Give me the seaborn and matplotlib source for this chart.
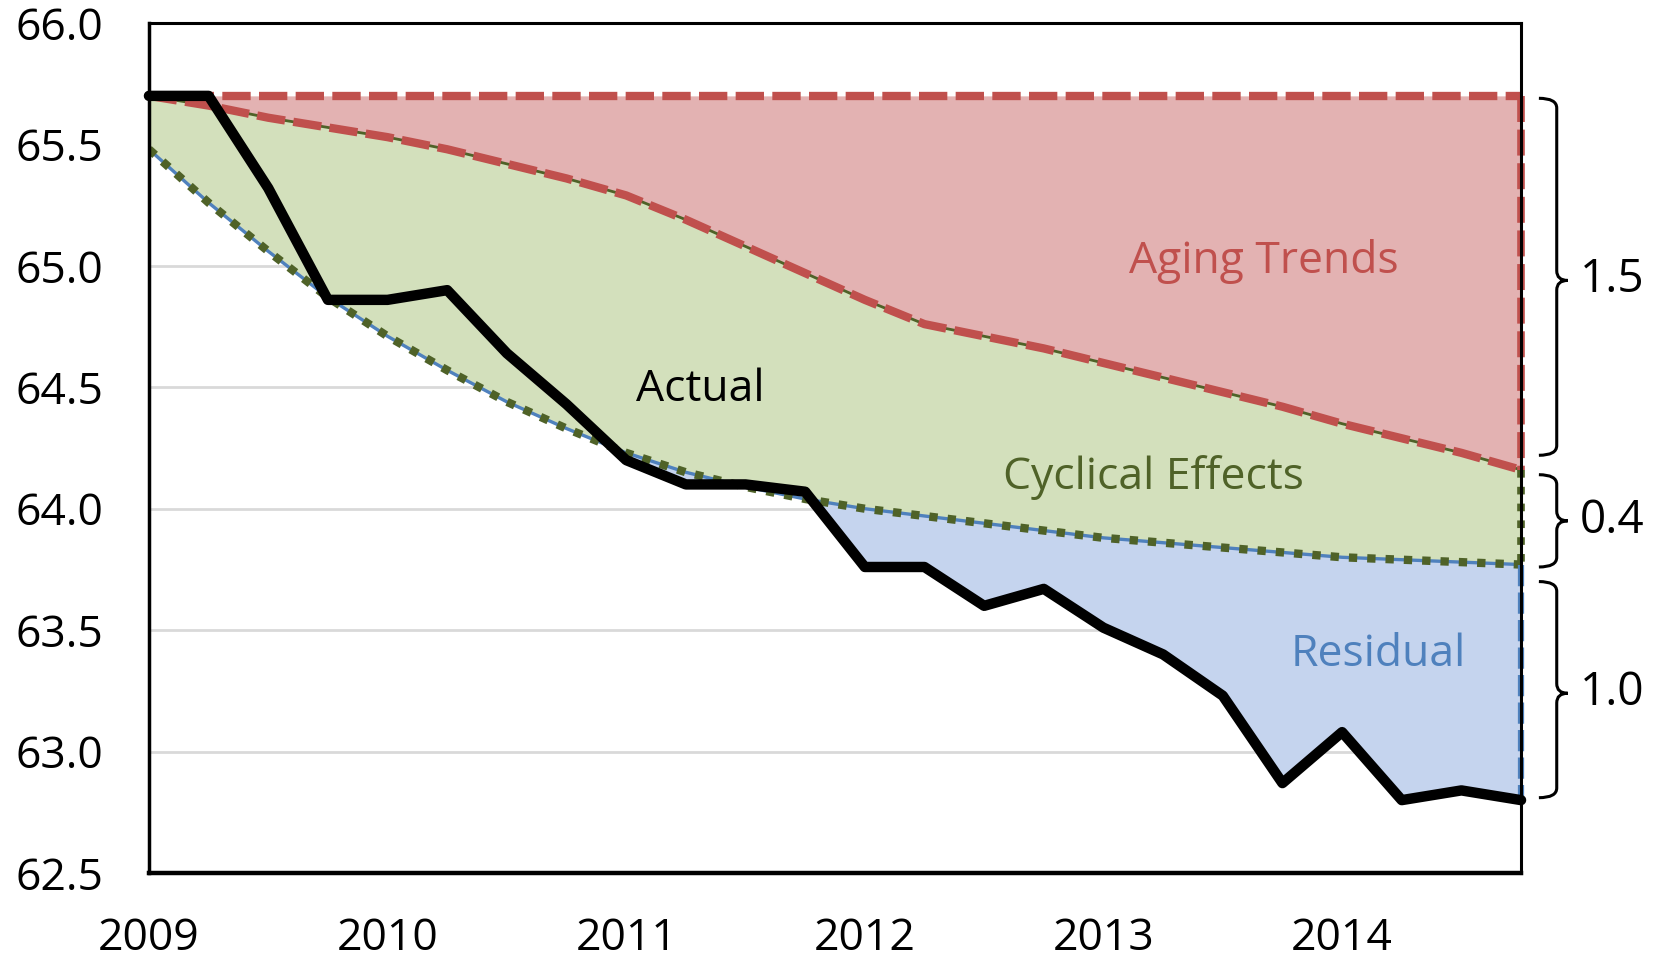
import numpy as np
import pandas as pd
import matplotlib
matplotlib.use("Agg")
import matplotlib.pyplot as plt
import matplotlib.transforms as mtransforms
from matplotlib.path import Path
from matplotlib.patches import PathPatch
import seaborn as sns

# quarterly positions 2009Q1 .. 2014Q4
quarters = [2009.0, 2009.25, 2009.5, 2009.75, 2010.0, 2010.25, 2010.5, 2010.75,
            2011.0, 2011.25, 2011.5, 2011.75, 2012.0, 2012.25, 2012.5, 2012.75,
            2013.0, 2013.25, 2013.5, 2013.75, 2014.0, 2014.25, 2014.5, 2014.75]

actual = [65.70, 65.70, 65.32, 64.86, 64.86, 64.90, 64.64, 64.43,
          64.20, 64.10, 64.10, 64.07, 63.76, 63.76, 63.60, 63.67,
          63.51, 63.40, 63.23, 62.87, 63.08, 62.80, 62.84, 62.80]

baseline = [65.70] * 24

aging = [65.70, 65.66, 65.61, 65.57, 65.53, 65.48, 65.42, 65.36,
         65.29, 65.19, 65.08, 64.97, 64.86, 64.76, 64.71, 64.66,
         64.60, 64.54, 64.48, 64.42, 64.35, 64.29, 64.23, 64.16]

cyclical = [65.48, 65.26, 65.06, 64.87, 64.71, 64.57, 64.44, 64.33,
            64.23, 64.15, 64.09, 64.04, 64.00, 63.97, 63.94, 63.91,
            63.88, 63.86, 63.84, 63.82, 63.80, 63.79, 63.78, 63.77]

year_ticks = [2009, 2010, 2011, 2012, 2013, 2014]
y_ticks = [62.5, 63.0, 63.5, 64.0, 64.5, 65.0, 65.5, 66.0]

# brackets on the right: top, bottom, middle, label
brace_top = [65.69, 64.14, 63.70]
brace_bottom = [64.22, 63.76, 62.81]
brace_mid = [64.94, 63.95, 63.24]
brace_labels = ["1.5", "0.4", "1.0"]

df = pd.DataFrame({"quarter": quarters, "actual": actual, "baseline": baseline,
                   "aging": aging, "cyclical": cyclical})

red = "#C0504D"
red_fill = "#E3B2B2"
green = "#4F6228"
green_fill = "#D3E0BC"
blue = "#4F81BD"
blue_fill = "#C5D4EE"

sns.set_style("white")
plt.rcParams['font.family'] = ['Open Sans', 'DejaVu Sans']

fig = plt.figure(figsize=(16.66, 9.59), dpi=100)
ax = fig.add_axes([0.0894, 0.0897, 0.8236, 0.8863])

x = df["quarter"].values
# shaded areas
ax.fill_between(x, df["baseline"], df["aging"], color=red_fill, lw=0, zorder=2)
ax.fill_between(x, df["aging"], df["cyclical"], color=green_fill, lw=0, zorder=2)
ax.fill_between(x, df["cyclical"], df["actual"], where=df["actual"] < df["cyclical"],
                interpolate=True, color=blue_fill, lw=0, zorder=2)

dash = (3.4, 1.0)
dot = (1.0, 1.2)
# borders
ax.plot(x, df["baseline"], color=red, lw=6.0, dashes=dash, zorder=4)
ax.plot(x, df["aging"], color=green, lw=2.0, zorder=3)
ax.plot(x, df["aging"], color=red, lw=6.0, dashes=dash, zorder=4)
ax.plot(x, df["cyclical"], color=blue, lw=2.4, zorder=3)
ax.plot(x, df["cyclical"], color=green, lw=6.0, dashes=dot, zorder=4)

# right edge vertical borders
xe = x[-1]
ax.plot([xe, xe], [baseline[-1], aging[-1]], color=red, lw=5.5, dashes=dash,
        zorder=4, clip_on=False)
ax.plot([xe, xe], [aging[-1], cyclical[-1]], color=green, lw=5.5, dashes=dot,
        zorder=4, clip_on=False)
ax.plot([xe, xe], [cyclical[-1], actual[-1]], color=blue, lw=4.5, dashes=dash,
        zorder=4, clip_on=False)

# actual line
sns.lineplot(data=df, x="quarter", y="actual", color="black", lw=7.5, ax=ax,
             zorder=5, clip_on=False)

ax.set_xlim(2009, 2014.75)
ax.set_ylim(62.5, 66.0)
ax.set_xticks(year_ticks)
ax.set_xticklabels([str(v) for v in year_ticks])
ax.set_yticks(y_ticks)
ax.set_yticklabels([f"{v:.1f}" for v in y_ticks])
ax.set_xlabel("")
ax.set_ylabel("")

for v in y_ticks[1:-1]:
    ax.axhline(v, color="#D9D9D9", lw=2, zorder=1)

ax.tick_params(axis="x", direction="in", length=15, width=2, pad=31,
               labelsize=32, colors="black")
ax.tick_params(axis="y", direction="in", length=15, width=2, pad=33,
               labelsize=32, colors="black")

for side, w in [("left", 2.5), ("bottom", 3.2), ("top", 2.2), ("right", 2.2)]:
    ax.spines[side].set_visible(True)
    ax.spines[side].set_color("black")
    ax.spines[side].set_linewidth(w)
    ax.spines[side].set_zorder(6)

# area labels
ax.text(2013.67, 65.02, "Aging Trends", color=red, fontsize=32, ha="center",
        va="center", zorder=7)
ax.text(2011.31, 64.49, "Actual", color="black", fontsize=32, ha="center",
        va="center", zorder=7)
ax.text(2013.21, 64.13, "Cyclical Effects", color=green, fontsize=32, ha="center",
        va="center", zorder=7)
ax.text(2014.15, 63.40, "Residual", color=blue, fontsize=32, ha="center",
        va="center", zorder=7)

# brackets
trans = mtransforms.blended_transform_factory(ax.transAxes, ax.transData)
x0, x1, x2 = 1.013, 1.026, 1.034
d = 0.04
for top, bot, mid, lab in zip(brace_top, brace_bottom, brace_mid, brace_labels):
    verts = [(x0, top), (x1, top), (x1, top - d),
             (x1, mid + d), (x1, mid), (x2, mid),
             (x1, mid), (x1, mid - d),
             (x1, bot + d), (x1, bot), (x0, bot)]
    codes = [Path.MOVETO, Path.CURVE3, Path.CURVE3,
             Path.LINETO, Path.CURVE3, Path.CURVE3,
             Path.CURVE3, Path.CURVE3,
             Path.LINETO, Path.CURVE3, Path.CURVE3]
    patch = PathPatch(Path(verts, codes), transform=trans, fill=False,
                      edgecolor="black", lw=2.2, clip_on=False)
    ax.add_patch(patch)
    ax.text(1.043, mid, lab, transform=trans, fontsize=33, ha="left",
            va="center", color="black")

fig.savefig("out.png", dpi=100)
